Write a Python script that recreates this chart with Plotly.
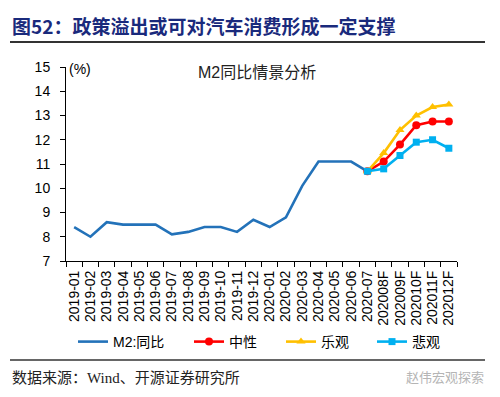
import plotly.graph_objects as go

categories = ["2019-01", "2019-02", "2019-03", "2019-04", "2019-05", "2019-06",
              "2019-07", "2019-08", "2019-09", "2019-10", "2019-11", "2019-12",
              "2020-01", "2020-02", "2020-03", "2020-04", "2020-05", "2020-06",
              "2020-07", "202008F", "202009F", "202010F", "202011F", "202012F"]

m2_values = [8.4, 8.0, 8.6, 8.5, 8.5, 8.5, 8.1, 8.2, 8.4, 8.4, 8.2, 8.7,
             8.4, 8.8, 10.1, 11.1, 11.1, 11.1, 10.7]

scenario_cats = ["2020-07", "202008F", "202009F", "202010F", "202011F", "202012F"]
neutral_values = [10.7, 11.1, 11.8, 12.6, 12.75, 12.75]
optimistic_values = [10.7, 11.45, 12.4, 13.0, 13.35, 13.45]
pessimistic_values = [10.7, 10.8, 11.35, 11.9, 12.0, 11.65]

CJK = "Noto Sans CJK SC"
ARIAL = "Liberation Sans, Arial"

# page-pixel -> paper coordinates (plot area on page: x 66..457, y 67..261)
def px(x):
    return (x - 66) / 391.0

def py(y):
    return (261 - y) / 194.0

fig = go.Figure()
fig.add_trace(go.Scatter(x=categories[:len(m2_values)], y=m2_values, mode="lines",
                         name="M2:同比", legend="legend",
                         line=dict(color="#2372B9", width=2.6)))
fig.add_trace(go.Scatter(x=scenario_cats, y=neutral_values, mode="lines+markers",
                         name="中性", legend="legend2",
                         line=dict(color="#FF0000", width=2.6),
                         marker=dict(symbol="circle", size=8, color="#FF0000")))
fig.add_trace(go.Scatter(x=scenario_cats, y=optimistic_values, mode="lines+markers",
                         name="乐观", legend="legend3",
                         line=dict(color="#FFC000", width=2.6),
                         marker=dict(symbol="triangle-up", size=8, color="#FFC000")))
fig.add_trace(go.Scatter(x=scenario_cats, y=pessimistic_values, mode="lines+markers",
                         name="悲观", legend="legend4",
                         line=dict(color="#00B0F0", width=2.6),
                         marker=dict(symbol="square", size=7, color="#00B0F0")))

legend_font = dict(family=ARIAL + ", " + CJK, size=14, color="#000000")
def leg(x_line_start):
    return dict(orientation="h", x=px(x_line_start - 6), xanchor="left",
                y=py(342), yanchor="middle", font=legend_font,
                bgcolor="rgba(0,0,0,0)", borderwidth=0)

fig.update_layout(
    width=500, height=397,
    margin=dict(l=58, r=51, t=59, b=144, autoexpand=False),
    paper_bgcolor="white", plot_bgcolor="white",
    font=dict(family=ARIAL, size=14, color="#000000"),
    showlegend=True,
    legend=leg(79), legend2=leg(195), legend3=leg(287), legend4=leg(378),
    xaxis=dict(type="category", categoryorder="array", categoryarray=categories,
               range=[-0.5, len(categories) - 0.5],
               tickmode="array", tickvals=categories, ticktext=categories,
               showline=True, linecolor="#000000", linewidth=1,
               ticks="outside", ticklen=5, tickcolor="#000000", tickson="boundaries",
               tickangle=-90, tickfont=dict(family=ARIAL, size=14, color="#000000"),
               ticklabelstandoff=3,
               showgrid=False, zeroline=False),
    yaxis=dict(range=[7, 15], dtick=1, showline=True, linecolor="#000000", linewidth=1,
               ticks="outside", ticklen=5, tickcolor="#000000",
               tickfont=dict(family=ARIAL, size=14, color="#000000"),
               ticklabelstandoff=7,
               showgrid=False, zeroline=False),
)

# header title
fig.add_annotation(xref="paper", yref="paper", x=px(10), y=py(25),
                   xanchor="left", yanchor="middle", showarrow=False,
                   text="<b>图52：政策溢出或可对汽车消费形成一定支撑</b>",
                   font=dict(family=CJK, size=19, color="#1A2A7C"))
# inner chart title
fig.add_annotation(xref="paper", yref="paper", x=px(257), y=py(72),
                   xanchor="center", yanchor="middle", showarrow=False,
                   text="M2同比情景分析",
                   font=dict(family=ARIAL + ", " + CJK, size=16, color="#222222"))
# unit
fig.add_annotation(xref="paper", yref="paper", x=px(67), y=py(69),
                   xanchor="left", yanchor="middle", showarrow=False,
                   text="(%)", font=dict(family=ARIAL, size=14, color="#000000"))
# source
fig.add_annotation(xref="paper", yref="paper", x=px(10), y=py(376),
                   xanchor="left", yanchor="middle", showarrow=False,
                   text="数据来源：<span style='font-family:Liberation Serif'>Wind</span>、开源证券研究所",
                   font=dict(family=CJK, size=15, color="#222222"))
# watermark
fig.add_annotation(xref="paper", yref="paper", x=px(486), y=py(376),
                   xanchor="right", yanchor="middle", showarrow=False,
                   text="赵伟宏观探索", font=dict(family=CJK, size=13, color="#B5B5B5"))

# rules
fig.add_shape(type="line", xref="paper", yref="paper",
              x0=px(10), x1=px(485), y0=py(42), y1=py(42),
              line=dict(color="#333333", width=2))
fig.add_shape(type="line", xref="paper", yref="paper",
              x0=px(10), x1=px(485), y0=py(360), y1=py(360),
              line=dict(color="#333333", width=1.5))

fig.write_html("out.html")
